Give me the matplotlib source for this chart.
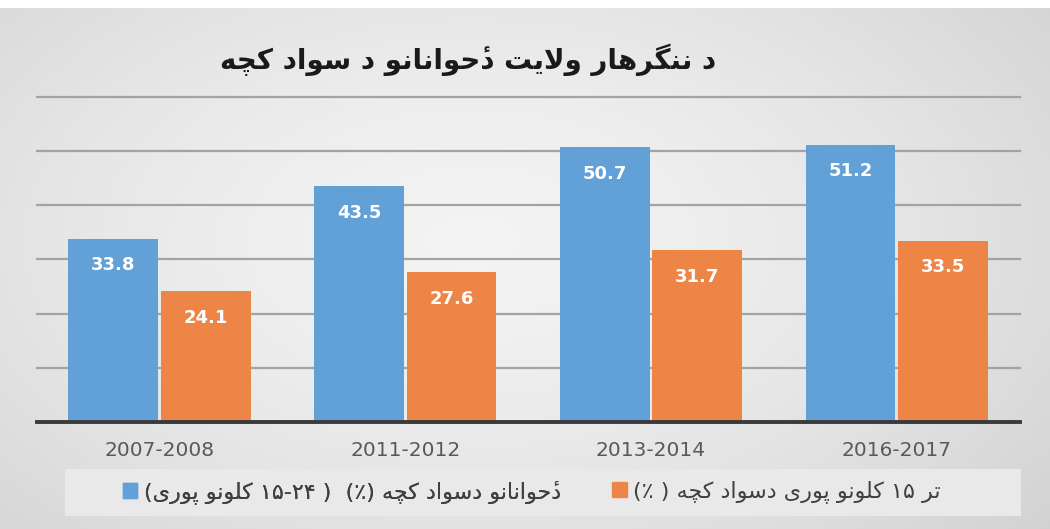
import re
import numpy as np
import matplotlib
matplotlib.use("Agg")
import matplotlib.pyplot as plt
from matplotlib.patches import Rectangle, Patch

plt.rcParams['font.family'] = ['DejaVu Sans']

# Data
years = ['2007-2008', '2011-2012', '2013-2014', '2016-2017']
youth = [33.8, 43.5, 50.7, 51.2]      # 15-24 years
over15 = [24.1, 27.6, 31.7, 33.5]     # 15 years and older

title = 'د ننگرهار ولایت دځوانانو د سواد کچه'
label_youth = 'دځوانانو دسواد کچه (٪)  ( ۱۵-۲۴ کلونو پوری)'
label_over15 = 'تر ۱۵ کلونو پوری دسواد کچه ( ٪)'

# matplotlib does no arabic shaping: use presentation forms + reverse by hand
# iso, fin (, ini, med)
HAMZA = '\u0654'
FORMS = {
    'ا': ('\uFE8D', '\uFE8E'),
    'د': ('\uFEA9', '\uFEAA'),
    'ر': ('\uFEAD', '\uFEAE'),
    'و': ('\uFEED', '\uFEEE'),
    'ت': ('\uFE95', '\uFE96', '\uFE97', '\uFE98'),
    'س': ('\uFEB1', '\uFEB2', '\uFEB3', '\uFEB4'),
    'ل': ('\uFEDD', '\uFEDE', '\uFEDF', '\uFEE0'),
    'ن': ('\uFEE5', '\uFEE6', '\uFEE7', '\uFEE8'),
    'ه': ('\uFEE9', '\uFEEA', '\uFEEB', '\uFEEC'),
    'پ': ('\uFB56', '\uFB57', '\uFB58', '\uFB59'),
    'چ': ('\uFB7A', '\uFB7B', '\uFB7C', '\uFB7D'),
    'ک': ('\uFB8E', '\uFB8F', '\uFB90', '\uFB91'),
    'گ': ('\uFB92', '\uFB93', '\uFB94', '\uFB95'),
    'ی': ('\uFBFC', '\uFBFD', '\uFBFE', '\uFBFF'),
    'ځ': tuple(g + HAMZA for g in ('\uFEA1', '\uFEA2', '\uFEA3', '\uFEA4')),
}


def shape_word(w):
    out = []
    prev_joins = False
    i = 0
    while i < len(w):
        c = w[i]
        if c == 'ل' and i + 1 < len(w) and w[i + 1] == 'ا':
            out.append('\uFEFC' if prev_joins else '\uFEFB')
            prev_joins = False
            i += 2
            continue
        f = FORMS[c]
        dual = len(f) == 4
        if dual and i + 1 < len(w):
            g = f[3] if prev_joins else f[2]
        else:
            g = f[1] if prev_joins else f[0]
        out.append(g)
        prev_joins = dual
        i += 1
    return ''.join(reversed(out))


def rtl(text):
    letters = ''.join(FORMS)
    pat = '[' + letters + ']+|[۰-۹]+(?:-[۰-۹]+)*|.'
    tokens = re.findall(pat, text)
    mirror = {'(': ')', ')': '('}
    res = []
    for t in reversed(tokens):
        if t[0] in FORMS:
            res.append(shape_word(t))
        else:
            res.append(mirror.get(t, t))
    return ''.join(res)


blue = '#62a0d8'
orange = '#ec8546'

fig = plt.figure(figsize=(10.5, 5.29), dpi=100)
fig.patch.set_facecolor('white')

# background gradient (light centre, darker rim)
bg = fig.add_axes([0, 0, 1, 0.985], zorder=-2)
yy, xx = np.mgrid[0:1:200j, 0:1:400j]
r = np.sqrt(((xx - 0.45) / 0.75) ** 2 + ((yy - 0.45) / 0.9) ** 2)
v = np.clip(0.955 - 0.14 * r ** 1.5, 0, 1)
bg.imshow(np.dstack([v, v, v]), aspect='auto', extent=[0, 1, 0, 1])
bg.set_axis_off()
fig.patches.append(Rectangle((0.062, 0.025), 0.91, 0.088, transform=fig.transFigure,
                             facecolor='#e9e9e9', edgecolor='none', zorder=-1))

ax = fig.add_axes([0.035, 0.2023, 0.936, 0.6144])
ax.set_facecolor('none')
x = np.arange(len(years))
w = 0.366
b1 = ax.bar(x - 0.188, youth, w, color=blue, zorder=2)
b2 = ax.bar(x + 0.188, over15, w, color=orange, zorder=2)

for bars in (b1, b2):
    for bar in bars:
        ax.annotate(f'{bar.get_height():.1f}', (bar.get_x() + bar.get_width() / 2, bar.get_height()),
                    xytext=(0, -19), textcoords='offset points', ha='center', va='center',
                    color='white', fontsize=13, fontweight='bold', zorder=3)

ax.set_xlim(-0.5, 3.5)
ax.set_ylim(0, 60)
ax.set_yticks(np.arange(0, 61, 10))
ax.yaxis.grid(True, color='#a3a3a3', linewidth=1.6, zorder=0)
for gl in ax.get_ygridlines():
    gl.set_clip_on(False)
ax.set_axisbelow(True)
ax.tick_params(axis='y', left=False, labelleft=False)
ax.tick_params(axis='x', length=0, pad=14, labelsize=14.5, labelcolor='#595959')
ax.set_xticks(x)
ax.set_xticklabels(years)
for s in ['top', 'left', 'right']:
    ax.spines[s].set_visible(False)
ax.spines['bottom'].set_color('#3a3a3a')
ax.spines['bottom'].set_linewidth(2.8)
ax.spines['bottom'].set_zorder(4)

fig.text(0.446, 0.887, rtl(title), ha='center', va='center', fontsize=20, fontweight='bold',
         color='#1a1a1a')

# two legend entries placed separately
leg_kw = dict(loc='center left', frameon=False, fontsize=16, handlelength=0.65,
              handleheight=0.65, handletextpad=0.3, borderaxespad=0, borderpad=0,
              labelcolor='#404040')
leg1 = fig.legend(handles=[Patch(color=blue, label=rtl(label_youth))],
                  bbox_to_anchor=(0.117, 0.07), **leg_kw)
fig.legend(handles=[Patch(color=orange, label=rtl(label_over15))],
           bbox_to_anchor=(0.583, 0.07), **leg_kw)
fig.add_artist(leg1)

fig.savefig('out.png', dpi=100)
